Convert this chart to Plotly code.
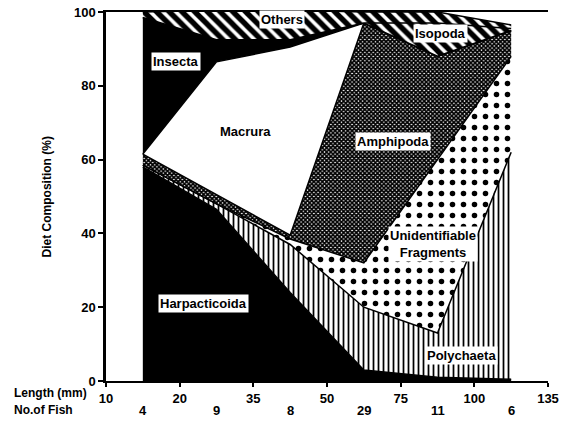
import plotly.graph_objects as go

# ---- data ----
length_ticks = ["10", "20", "35", "50", "75", "100", "135"]
n_fish = ["4", "9", "8", "29", "11", "6"]
# x positions: bin mid-points on a categorical-like axis (tick edges at 0..6)
x_pos = [0.5, 1.5, 2.5, 3.5, 4.5, 5.5]

harpacticoida = [58.0, 46.5, 24.0, 3.0, 1.0, 0.5]
polychaeta = [0.5, 1.5, 13.0, 17.0, 12.0, 61.5]
fragments = [0.0, 0.0, 1.5, 12.0, 47.0, 26.0]
amphipoda = [3.0, 2.5, 1.0, 65.0, 28.0, 7.0]
macrura = [0.0, 36.0, 51.0, 0.0, 0.0, 0.0]
insecta = [37.0, 6.0, 2.0, 0.0, 0.0, 0.0]
isopoda = [0.0, 0.0, 0.0, 0.0, 9.0, 0.5]
others = [1.5, 8.0, 8.0, 3.0, 3.0, 1.0]

fig = go.Figure()

def add_layer(name, vals, fillcolor=None, pattern=None):
    kw = dict(x=x_pos, y=vals, name=name, mode="lines", stackgroup="one",
              line=dict(color="black", width=1.5), showlegend=False,
              hoverinfo="skip")
    if pattern:
        kw["fillpattern"] = pattern
        kw["fillcolor"] = "white"
    else:
        kw["fillcolor"] = fillcolor
    fig.add_trace(go.Scatter(**kw))

add_layer("Harpacticoida", harpacticoida, fillcolor="black")
add_layer("Polychaeta", polychaeta, pattern=dict(shape="|", fgcolor="black", bgcolor="white",
                                                  size=5, solidity=0.35, fillmode="replace"))
add_layer("Unidentifiable Fragments", fragments, pattern=dict(shape=".", fgcolor="black", bgcolor="white",
                                                               size=11, solidity=0.2, fillmode="replace"))
add_layer("Amphipoda", amphipoda, pattern=dict(shape="x", fgcolor="black", bgcolor="white",
                                                size=3, solidity=0.8, fillmode="replace"))
add_layer("Macrura", macrura, fillcolor="white")
add_layer("Insecta", insecta, fillcolor="black")
add_layer("Isopoda", isopoda, pattern=dict(shape="\\", fgcolor="black", bgcolor="white",
                                            size=9, solidity=0.6, fillmode="replace"))
add_layer("Others", others, pattern=dict(shape="\\", fgcolor="black", bgcolor="white",
                                          size=9, solidity=0.6, fillmode="replace"))

lab_font = dict(family="Liberation Sans", size=13, color="black", weight="bold")
side_font = dict(family="Liberation Sans", size=12, color="black", weight="bold")
num_font = dict(family="Liberation Sans", size=13, color="black", weight="bold")

labels = [
    ("Others", 2.39, 98.0, "white"),
    ("Insecta", 0.95, 86.7, "white"),
    ("Macrura", 1.89, 67.5, None),
    ("Amphipoda", 3.9, 64.8, "white"),
    ("Isopoda", 4.54, 94.3, "white"),
    ("Unidentifiable<br>Fragments", 4.44, 37.1, "white"),
    ("Harpacticoida", 1.32, 21.1, "white"),
    ("Polychaeta", 4.83, 7.0, "white"),
]
for text, xx, yy, bg in labels:
    a = dict(x=xx, y=yy, xref="x", yref="y", text=text, showarrow=False, font=lab_font, borderpad=1)
    if bg:
        a["bgcolor"] = bg
    fig.add_annotation(**a)

# y-axis title
fig.add_annotation(x=-0.154, y=0.5, xref="paper", yref="paper", text="Diet Composition (%)",
                   showarrow=False, textangle=-90, font=side_font)
# axis side labels
fig.add_annotation(x=-0.2127, y=-0.0325, xref="paper", yref="paper", text="Length (mm)",
                   showarrow=False, xanchor="left", yanchor="middle", font=side_font)
fig.add_annotation(x=-0.2127, y=-0.0786, xref="paper", yref="paper", text="No.of Fish",
                   showarrow=False, xanchor="left", yanchor="middle", font=side_font)
for xx, nf in zip(x_pos, n_fish):
    fig.add_annotation(x=xx, y=-0.0786, xref="x", yref="paper", text=nf, showarrow=False,
                       yanchor="middle", font=num_font)

fig.update_layout(
    width=568, height=421,
    margin=dict(l=106, r=20, t=12, b=40, autoexpand=False),
    paper_bgcolor="white", plot_bgcolor="white",
    font=dict(family="Liberation Sans", color="black"),
)
fig.update_xaxes(
    range=[0, 6], tickmode="array", tickvals=list(range(7)), ticktext=length_ticks,
    showgrid=False, zeroline=False, showline=True, linecolor="black", linewidth=2,
    mirror=True, ticks="outside", ticklen=4, tickwidth=2, tickcolor="black",
    tickfont=num_font, automargin=False,
)
fig.update_yaxes(
    range=[0, 100], tickmode="array", tickvals=[0, 20, 40, 60, 80, 100],
    showgrid=False, zeroline=False, showline=True, linecolor="black", linewidth=2.5,
    ticks="outside", ticklen=5, tickwidth=2, tickcolor="black",
    tickfont=num_font, automargin=False,
)

fig.write_html("out.html", config={"displayModeBar": False},
               post_script="document.body.style.margin='0';document.body.style.overflow='hidden';")
